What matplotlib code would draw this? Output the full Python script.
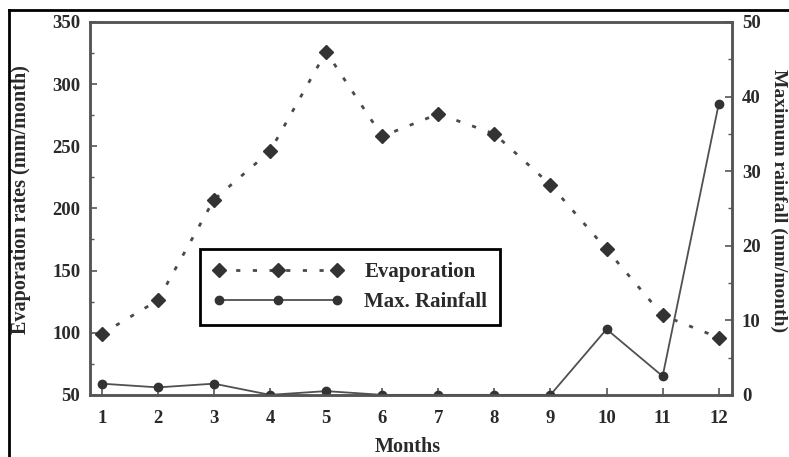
import matplotlib
matplotlib.use("Agg")
import matplotlib.pyplot as plt
from matplotlib.ticker import MultipleLocator
from matplotlib.lines import Line2D

# monthly values
months = [1, 2, 3, 4, 5, 6, 7, 8, 9, 10, 11, 12]
evaporation = [99, 126, 207, 246, 326, 258, 276, 260, 219, 167, 114, 96]
max_rainfall = [1.5, 1.0, 1.5, 0, 0.5, 0, 0, 0, 0, 8.8, 2.5, 39]

plt.rcParams['font.family'] = ['Liberation Serif', 'DejaVu Serif']
plt.rcParams['font.weight'] = 'bold'

TXT = '#2a2a2a'
fig = plt.figure(figsize=(7.89, 4.57), dpi=100)
ax = fig.add_axes([0.114, 0.136, 0.814, 0.816])
ax2 = ax.twinx()

evap_style = dict(color='#4a4a4a', lw=2.0, linestyle=(0, (1.5, 4.5)), marker='D', ms=7,
                  markerfacecolor='#333333', markeredgecolor='#333333')
rain_style = dict(color='#505050', lw=1.3, linestyle='-', marker='o', ms=6,
                  markerfacecolor='#333333', markeredgecolor='#333333')

ax.plot(months, evaporation, **evap_style)
ax2.plot(months, max_rainfall, **rain_style)

ax.set_xlim(0.79, 12.24)
ax.set_ylim(50, 350)
ax2.set_ylim(0, 50)
ax.set_xticks(months)
ax.yaxis.set_major_locator(MultipleLocator(50))
ax.yaxis.set_minor_locator(MultipleLocator(25))
ax2.yaxis.set_major_locator(MultipleLocator(10))
ax2.yaxis.set_minor_locator(MultipleLocator(5))

for a in (ax, ax2):
    for s in a.spines.values():
        s.set_linewidth(1.8)
        s.set_color('#555555')
    a.tick_params(which='both', direction='in', color='#555555', labelsize=13.5,
                  labelcolor=TXT)
    a.tick_params(which='major', length=5, width=1.2)
    a.tick_params(which='minor', length=3, width=1.0)
ax.tick_params(axis='x', pad=11)
ax.tick_params(axis='y', pad=7)
ax2.tick_params(axis='y', pad=7)

ax.set_xlabel('Months', fontsize=14.5, fontweight='bold', color=TXT, va='center')
ax.xaxis.set_label_coords(0.495, -0.141)
ax.set_ylabel('Evaporation rates (mm/month)', fontsize=14.5, fontweight='bold',
              color=TXT, va='center')
ax.yaxis.set_label_coords(-0.108, 0.523)
ax2.set_ylabel('Maximum rainfall (mm/month)', fontsize=14, fontweight='bold',
               color=TXT, rotation=270, va='center', ha='center')
ax2.yaxis.set_label_coords(1.073, 0.52)

h1 = Line2D([], [], **evap_style)
h2 = Line2D([], [], **rain_style)
leg = ax2.legend([h1, h2], ['Evaporation', 'Max. Rainfall'], loc='lower left',
                 bbox_to_anchor=(0.171, 0.188), numpoints=3, handlelength=6.3,
                 prop={'size': 15, 'weight': 'bold'}, fancybox=False, framealpha=1,
                 borderpad=0.6, labelspacing=0.5, handletextpad=1.0,
                 borderaxespad=0)
leg.get_frame().set_edgecolor('black')
leg.get_frame().set_linewidth(2)
for t in leg.get_texts():
    t.set_color(TXT)

# outer frame (top and left edges of the cropped figure)
fig.add_artist(Line2D([0.0114, 1.0], [0.978, 0.978], color='black', lw=2,
                      transform=fig.transFigure))
fig.add_artist(Line2D([0.0114, 0.0114], [0.0, 0.978], color='black', lw=2,
                      transform=fig.transFigure))

fig.savefig('out.png', dpi=100)
